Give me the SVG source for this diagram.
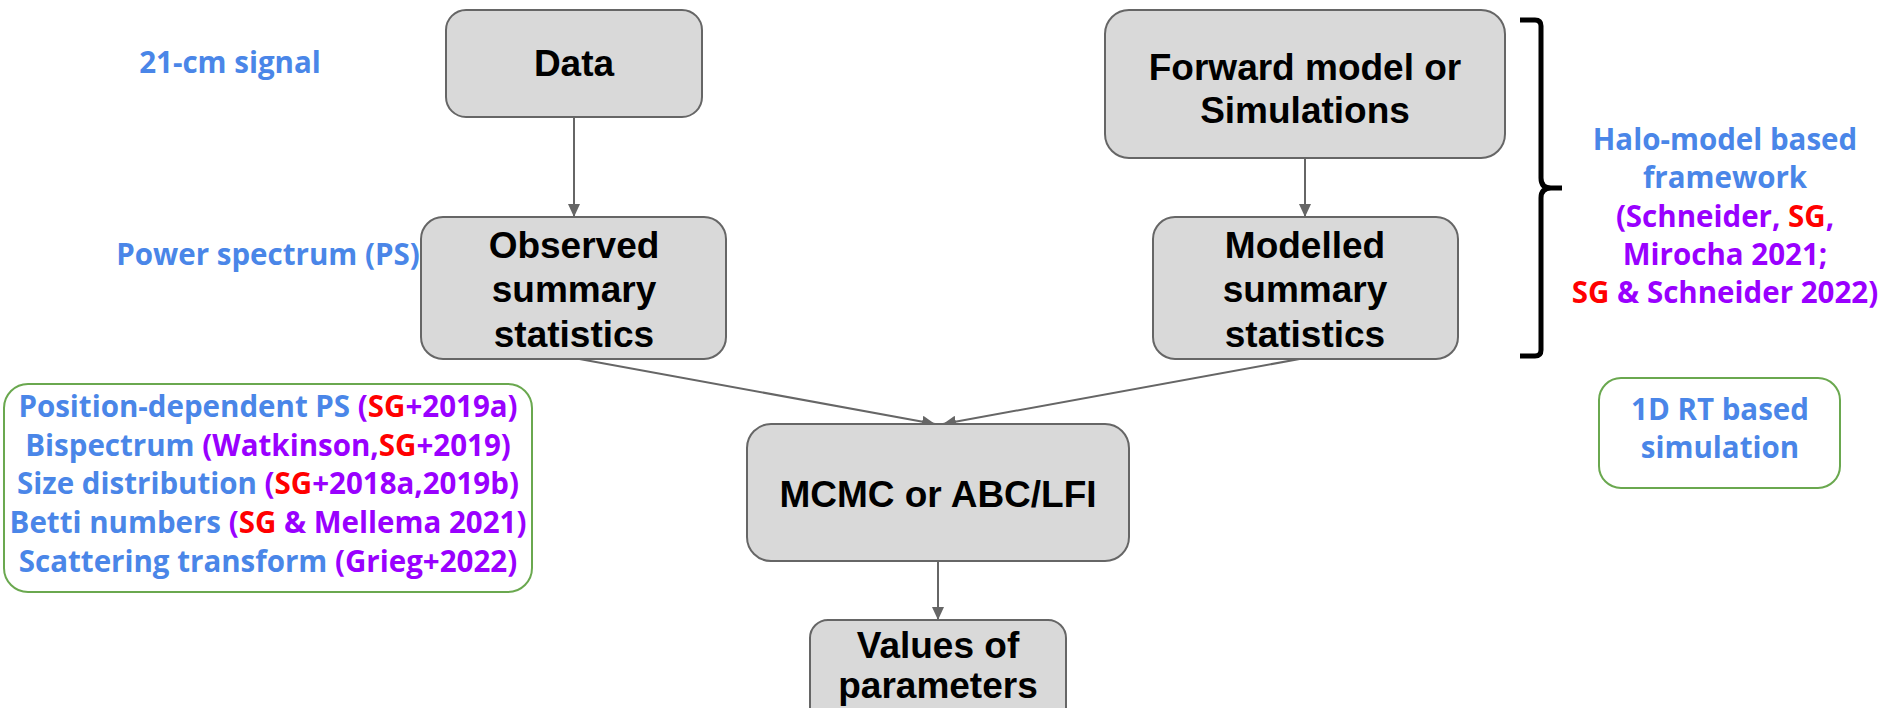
<svg xmlns="http://www.w3.org/2000/svg" width="1891" height="708" viewBox="0 0 1891 708">
  <style>
    .box { fill: #d9d9d9; stroke: #666666; stroke-width: 2; }
    .note { fill: #ffffff; stroke: #6aa84f; stroke-width: 2; }
    .lbl { font-family: "Liberation Sans", Arial, sans-serif; font-weight: bold; font-size: 37px; fill: #000000; text-anchor: middle; }
    .side { font-family: "Open Sans", "Liberation Sans", sans-serif; font-weight: bold; font-size: 29.5px; text-anchor: middle; }
    .b { fill: #4a86e8; }
    .p { fill: #9900ff; }
    .r { fill: #ff0000; }
    .edge { stroke: #666666; stroke-width: 2; fill: none; marker-end: url(#arrow); }
  </style>
  <defs>
    <marker id="arrow" markerUnits="userSpaceOnUse" markerWidth="14" markerHeight="12" refX="13" refY="6" orient="auto">
      <path d="M0,0 L13,6 L0,12 Z" fill="#666666"/>
    </marker>
  </defs>

  <rect width="1891" height="708" fill="#ffffff"/>

  <!-- free-standing side labels -->
  <g id="label-signal">
    <text class="side b" x="230" y="73">21-cm signal</text>
  </g>
  <g id="label-ps">
    <text class="side b" x="268" y="265">Power spectrum (PS)</text>
  </g>

  <!-- connectors -->
  <g id="connectors">
    <line class="edge" x1="574" y1="117" x2="574" y2="217"/>
    <line class="edge" x1="1305" y1="158" x2="1305" y2="217"/>
    <line class="edge" x1="574" y1="358" x2="935" y2="424"/>
    <line class="edge" x1="1305" y1="358" x2="943" y2="424"/>
    <line class="edge" x1="938" y1="561" x2="938" y2="620"/>
  </g>

  <!-- flow nodes -->
  <g id="node-data">
    <rect class="box" x="446" y="10" width="256" height="107" rx="20"/>
    <text class="lbl" x="574" y="76">Data</text>
  </g>
  <g id="node-forward">
    <rect class="box" x="1105" y="10" width="400" height="148" rx="24"/>
    <text class="lbl" x="1305" y="80">Forward model or</text>
    <text class="lbl" x="1305" y="123">Simulations</text>
  </g>
  <g id="node-observed">
    <rect class="box" x="421" y="217" width="305" height="142" rx="22"/>
    <text class="lbl" x="574" y="258">Observed</text>
    <text class="lbl" x="574" y="302">summary</text>
    <text class="lbl" x="574" y="347">statistics</text>
  </g>
  <g id="node-modelled">
    <rect class="box" x="1153" y="217" width="305" height="142" rx="22"/>
    <text class="lbl" x="1305" y="258">Modelled</text>
    <text class="lbl" x="1305" y="302">summary</text>
    <text class="lbl" x="1305" y="347">statistics</text>
  </g>
  <g id="node-inference">
    <rect class="box" x="747" y="424" width="382" height="137" rx="24"/>
    <text class="lbl" x="938" y="507">MCMC or ABC/LFI</text>
  </g>
  <g id="node-values">
    <rect class="box" x="810" y="620" width="256" height="120" rx="18"/>
    <text class="lbl" x="938" y="658">Values of</text>
    <text class="lbl" x="938" y="698">parameters</text>
  </g>

  <!-- alternative summary statistics -->
  <g id="note-statistics">
    <rect class="note" x="4" y="384" width="528" height="208" rx="24"/>
    <text class="side" x="268" y="417"><tspan class="b">Position-dependent PS </tspan><tspan class="p">(</tspan><tspan class="r">SG</tspan><tspan class="p">+2019a)</tspan></text>
    <text class="side" x="268" y="456"><tspan class="b">Bispectrum </tspan><tspan class="p">(Watkinson,</tspan><tspan class="r">SG</tspan><tspan class="p">+2019)</tspan></text>
    <text class="side" x="268" y="494"><tspan class="b">Size distribution </tspan><tspan class="p">(</tspan><tspan class="r">SG</tspan><tspan class="p">+2018a,2019b)</tspan></text>
    <text class="side" x="268" y="533"><tspan class="b">Betti numbers </tspan><tspan class="p">(</tspan><tspan class="r">SG</tspan><tspan class="p"> &amp; Mellema 2021)</tspan></text>
    <text class="side" x="268" y="572"><tspan class="b">Scattering transform </tspan><tspan class="p">(Grieg+2022)</tspan></text>
  </g>

  <!-- brace grouping the modelling branch -->
  <g id="brace">
    <path d="M1520,20 H1535 Q1541,20 1541,26 V178 Q1541,188 1551,188 H1562 M1551,188 Q1541,188 1541,198 V350 Q1541,356 1535,356 H1520" fill="none" stroke="#000000" stroke-width="5" stroke-linejoin="round"/>
  </g>

  <g id="label-halo">
    <text class="side b" x="1725" y="150">Halo-model based</text>
    <text class="side b" x="1725" y="188">framework</text>
    <text class="side" x="1725" y="227"><tspan class="p">(Schneider, </tspan><tspan class="r">SG</tspan><tspan class="p">,</tspan></text>
    <text class="side p" x="1725" y="265">Mirocha 2021;</text>
    <text class="side" x="1725" y="303"><tspan class="r">SG</tspan><tspan class="p"> &amp; Schneider 2022)</tspan></text>
  </g>

  <g id="note-rt">
    <rect class="note" x="1599" y="378" width="241" height="110" rx="22"/>
    <text class="side b" x="1720" y="420">1D RT based</text>
    <text class="side b" x="1720" y="458">simulation</text>
  </g>
</svg>
